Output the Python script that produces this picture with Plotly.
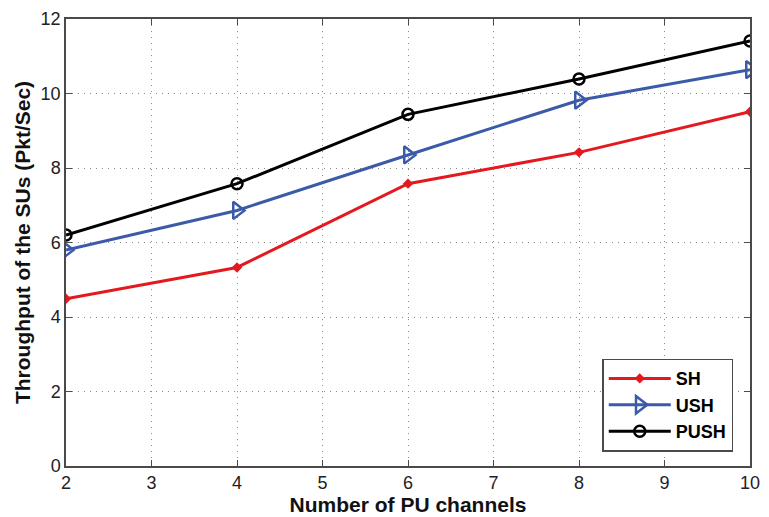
import plotly.graph_objects as go

# Throughput of secondary users vs number of primary-user channels
channels = [2, 4, 6, 8, 10]
sh = [4.49, 5.33, 7.58, 8.42, 9.51]
ush = [5.80, 6.86, 8.35, 9.82, 10.64]
push = [6.20, 7.58, 9.44, 10.39, 11.41]

x_ticks = [2, 3, 4, 5, 6, 7, 8, 9, 10]
y_ticks = [0, 2, 4, 6, 8, 10, 12]

FONT = "Liberation Sans, Arial, sans-serif"

fig = go.Figure()

fig.add_trace(go.Scatter(
    x=channels, y=sh, name="SH", mode="lines+markers",
    line=dict(color="#e3191f", width=3),
    marker=dict(symbol="diamond", size=8, color="#e3191f"),
))
fig.add_trace(go.Scatter(
    x=channels, y=ush, name="USH", mode="lines+markers",
    line=dict(color="#3b5ba9", width=3),
    marker=dict(symbol="triangle-right-open", size=15, color="#3b5ba9",
                line=dict(width=2.5, color="#3b5ba9")),
))
fig.add_trace(go.Scatter(
    x=channels, y=push, name="PUSH", mode="lines+markers",
    line=dict(color="#000000", width=3),
    marker=dict(symbol="circle-open", size=11, color="#000000",
                line=dict(width=2.5, color="#000000")),
))

axis_common = dict(
    showline=True, linecolor="#4a4a4a", linewidth=1.5, mirror="ticks",
    ticks="inside", ticklen=6, tickcolor="#4a4a4a",
    showgrid=True, gridcolor="#8c8c8c", griddash="1px,5px", gridwidth=1.2,
    zeroline=False,
    tickfont=dict(family=FONT, size=18, color="#222222"),
)

fig.update_layout(
    width=769, height=517,
    margin=dict(l=66, r=9, t=17, b=50),
    paper_bgcolor="white", plot_bgcolor="white",
    xaxis=dict(
        range=[2, 10], tickvals=x_ticks,
        title=dict(text="<b>Number of PU channels</b>", standoff=0,
                   font=dict(family=FONT, size=21, color="#111111")),
        **axis_common,
    ),
    yaxis=dict(
        range=[0, 12], tickvals=y_ticks,
        title=dict(text="<b>Throughput of the SUs (Pkt/Sec)</b>", standoff=4,
                   font=dict(family=FONT, size=21, color="#111111")),
        **axis_common,
    ),
    legend=dict(
        x=0.784, y=0.24, xanchor="left", yanchor="top",
        bgcolor="white", bordercolor="#4a4a4a", borderwidth=1.5,
        font=dict(family=FONT, size=18, color="#000000", weight="bold"),
        itemwidth=62, tracegroupgap=0,
    ),
    showlegend=True,
)

fig.write_html("out.html")
